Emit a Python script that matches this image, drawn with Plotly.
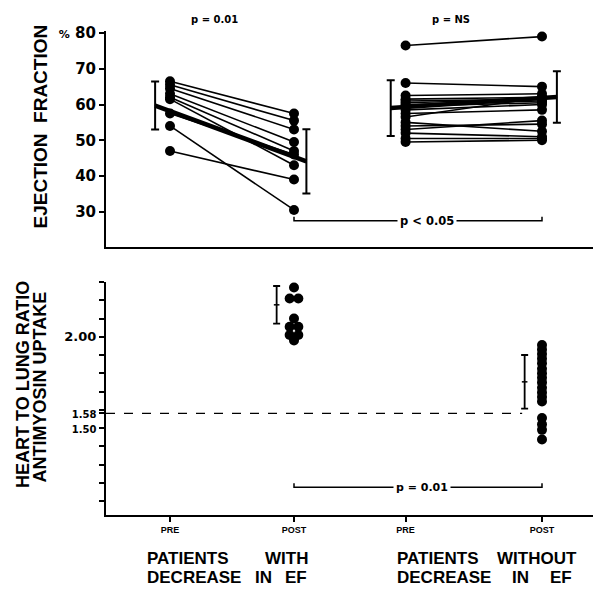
import plotly.graph_objects as go

# ---------------- data ----------------
tick_labels = ["PRE", "POST", "PRE", "POST"]
x_pos = [1.0, 2.0, 2.9, 4.0]

# Ejection fraction (%) - patients with decrease in EF (pre -> post)
ef_dec_pre = [66.5, 65.5, 64.5, 63.0, 62.0, 61.5, 57.5, 54.0, 47.0]
ef_dec_post = [57.5, 55.5, 53.0, 49.5, 47.0, 43.0, 46.0, 30.5, 39.0]
# Ejection fraction (%) - patients without decrease in EF
ef_nodec_pre = [76.5, 66.0, 62.5, 61.5, 61.0, 60.5, 60.0, 59.5, 58.5, 57.5, 56.5, 55.0, 54.0, 53.0, 52.0, 50.5, 49.5]
ef_nodec_post = [79.0, 65.0, 63.0, 62.0, 61.5, 61.5, 61.0, 60.5, 60.0, 58.5, 62.0, 52.5, 54.5, 55.5, 51.0, 50.5, 50.0]
ef_mean = [59.7, 44.1, 59.0, 62.1]
ef_sd = [6.7, 9.0, 7.8, 7.2]

# Heart-to-lung ratio of antimyosin uptake (post)
ratio_dec_post = [2.27, 2.21, 2.21, 2.10, 2.055, 2.055, 2.01, 2.01, 1.98]
ratio_nodec_post = [1.955, 1.93, 1.905, 1.88, 1.855, 1.825, 1.80, 1.775, 1.75, 1.72, 1.695, 1.67, 1.645,
                    1.555, 1.52, 1.49, 1.437]
ratio_mean = [2.175, 1.753]
ratio_sd = [0.103, 0.147]
threshold = 1.58

# ---------------- layout helpers ----------------
W, H = 595, 589
ML, MR, MT, MB = 106, 2, 31, 74
PW = W - ML - MR
PH = H - MT - MB


def px_x(px):
    return (px - ML) / PW


def px_y(py):
    return (H - MB - py) / PH


X_RANGE = [0.4839, 0.4839 + PW / 124.0]
dec_dx = [0, -1, 1, 0, -1, 1, -1, 1, 0]   # layout offsets of the clustered dots
DX = 0.035
BLACK = "black"
FONT = "Liberation Sans"
NUMFONT = "DejaVu Sans"

fig = go.Figure()


def pairs(x0, x1, a, b):
    xs, ys = [], []
    for p, q in zip(a, b):
        xs += [x0, x1, None]
        ys += [p, q, None]
    return xs, ys


# patient lines (top)
for pre, post, i0, i1 in [(ef_dec_pre, ef_dec_post, 0, 1), (ef_nodec_pre, ef_nodec_post, 2, 3)]:
    xs, ys = pairs(x_pos[i0], x_pos[i1], pre, post)
    fig.add_trace(go.Scatter(x=xs, y=ys, mode="lines+markers", xaxis="x", yaxis="y",
                             line=dict(color=BLACK, width=1.6),
                             marker=dict(size=10, color=BLACK), showlegend=False, hoverinfo="skip"))

# mean +/- SD (top)
ef_err_x = [x_pos[0] - 0.12, x_pos[1] + 0.10, x_pos[2] - 0.12, x_pos[3] + 0.12]
for k in (0, 2):
    fig.add_trace(go.Scatter(x=ef_err_x[k:k + 2], y=ef_mean[k:k + 2], mode="lines", xaxis="x", yaxis="y",
                             line=dict(color=BLACK, width=4.5), showlegend=False, hoverinfo="skip"))
fig.add_trace(go.Scatter(x=ef_err_x, y=ef_mean, mode="markers", xaxis="x", yaxis="y",
                         marker=dict(size=1, color=BLACK),
                         error_y=dict(type="data", array=ef_sd, color=BLACK, thickness=2, width=4),
                         showlegend=False, hoverinfo="skip"))

# bottom dots
fig.add_trace(go.Scatter(x=[x_pos[1] + d * DX for d in dec_dx], y=ratio_dec_post, mode="markers",
                         xaxis="x2", yaxis="y2", marker=dict(size=10, color=BLACK),
                         showlegend=False, hoverinfo="skip"))
fig.add_trace(go.Scatter(x=[x_pos[3]] * len(ratio_nodec_post), y=ratio_nodec_post, mode="markers",
                         xaxis="x2", yaxis="y2", marker=dict(size=10, color=BLACK),
                         showlegend=False, hoverinfo="skip"))
ratio_err_x = [x_pos[1] - 0.14, x_pos[3] - 0.14]
fig.add_trace(go.Scatter(x=ratio_err_x, y=ratio_mean, mode="markers", xaxis="x2", yaxis="y2",
                         marker=dict(size=4, color=BLACK, symbol="line-ew-open", line=dict(width=1.5, color=BLACK)),
                         error_y=dict(type="data", array=ratio_sd, color=BLACK, thickness=1.8, width=3.5),
                         showlegend=False, hoverinfo="skip"))

# threshold dashed line
fig.add_trace(go.Scatter(x=[X_RANGE[0], ratio_err_x[1] - 0.02], y=[threshold, threshold], mode="lines",
                         xaxis="x2", yaxis="y2", line=dict(color=BLACK, width=1.2, dash="dash"),
                         showlegend=False, hoverinfo="skip"))

# significance brackets
fig.add_trace(go.Scatter(x=[x_pos[1], x_pos[1], x_pos[3], x_pos[3]], y=[28.6, 27.5, 27.5, 28.6],
                         mode="lines", xaxis="x", yaxis="y", line=dict(color=BLACK, width=1.5),
                         showlegend=False, hoverinfo="skip"))
fig.add_trace(go.Scatter(x=[x_pos[1], x_pos[1], x_pos[3], x_pos[3]], y=[1.197, 1.175, 1.175, 1.197],
                         mode="lines", xaxis="x2", yaxis="y2", line=dict(color=BLACK, width=1.5),
                         showlegend=False, hoverinfo="skip"))

# ---------------- axes ----------------
top_ticks = [30, 40, 50, 60, 70, 80]
top_text = [str(v) for v in top_ticks[:-1]] + ['<span style="font-size:11px">%</span> 80']

bot_ticks = [round(1.1 + 0.1 * i, 2) for i in range(13)] + [threshold]
bot_text = []
for v in bot_ticks:
    if v == 2.0:
        bot_text.append("2.00")
    elif v == 1.5:
        bot_text.append('<span style="font-size:10px">1.50</span>')
    elif v == threshold:
        bot_text.append('<span style="font-size:10px">1.58</span>')
    else:
        bot_text.append("")

axis_common = dict(showline=True, linecolor=BLACK, linewidth=2, showgrid=False, zeroline=False)

fig.update_layout(
    width=W, height=H,
    margin=dict(l=ML, r=MR, t=MT, b=MB),
    paper_bgcolor="white", plot_bgcolor="white",
    showlegend=False,
    xaxis=dict(domain=[0, 1], range=X_RANGE, anchor="y", showticklabels=False, ticks="", **axis_common),
    yaxis=dict(domain=[px_y(247), 1.0], range=[20.14, 80.56], anchor="x",
               tickvals=top_ticks, ticktext=top_text, ticks="outside", ticklen=5, tickwidth=2,
               tickcolor=BLACK, tickfont=dict(family=NUMFONT, size=15, color=BLACK, weight="bold"),
               **axis_common),
    xaxis2=dict(domain=[0, 1], range=X_RANGE, anchor="y2", tickvals=x_pos, ticktext=tick_labels,
                ticks="outside", ticklen=5, tickwidth=1.5, tickcolor=BLACK,
                tickfont=dict(family=FONT, size=9, color=BLACK, weight="bold"), **axis_common),
    yaxis2=dict(domain=[0, px_y(282)], range=[1.0235, 2.30], anchor="x2",
                tickvals=bot_ticks, ticktext=bot_text, ticks="outside", ticklen=5, tickwidth=2,
                tickcolor=BLACK, tickfont=dict(family=NUMFONT, size=13, color=BLACK, weight="bold"),
                **axis_common),
)

ann = []


def text_ann(text, x, y, size, xref="paper", yref="paper", xanchor="center", angle=0, family=FONT, bg=None):
    d = dict(text=text, x=x, y=y, xref=xref, yref=yref, xanchor=xanchor, yanchor="middle",
             showarrow=False, textangle=angle,
             font=dict(family=family, size=size, color=BLACK, weight="bold"))
    if bg:
        d.update(bgcolor=bg, borderpad=2)
    ann.append(d)


# axis titles
text_ann("EJECTION\u00a0\u00a0FRACTION", px_x(40), px_y(126.5), 19, angle=-90)
text_ann("HEART TO LUNG RATIO", px_x(23), px_y(385), 18, angle=-90)
text_ann("ANTIMYOSIN UPTAKE", px_x(39), px_y(387.5), 18, angle=-90)

# p-values
text_ann("p = 0.01", px_x(214), px_y(19), 10, family=NUMFONT)
text_ann("p = NS", px_x(451), px_y(19), 10, family=NUMFONT)
text_ann("p < 0.05", 3.07, 27.5, 11.5, xref="x", yref="y", family=NUMFONT, bg="white")
text_ann("p = 0.01", 3.03, 1.175, 11, xref="x2", yref="y2", family=NUMFONT, bg="white")

# group labels (word by word)
group_words = [("PATIENTS", 145, 558), ("WITH", 263, 558), ("DECREASE", 145, 577.5), ("IN", 253, 577.5),
               ("EF", 283, 577.5),
               ("PATIENTS", 395, 558), ("WITHOUT", 495, 558), ("DECREASE", 395, 577.5), ("IN", 510, 577.5),
               ("EF", 548, 577.5)]
for w, xp, yp in group_words:
    text_ann(w, px_x(xp), px_y(yp), 17, xanchor="left")

fig.update_layout(annotations=ann)
fig.write_html("out.html", config={"displayModeBar": False},
               post_script="document.body.style.margin='0';")
